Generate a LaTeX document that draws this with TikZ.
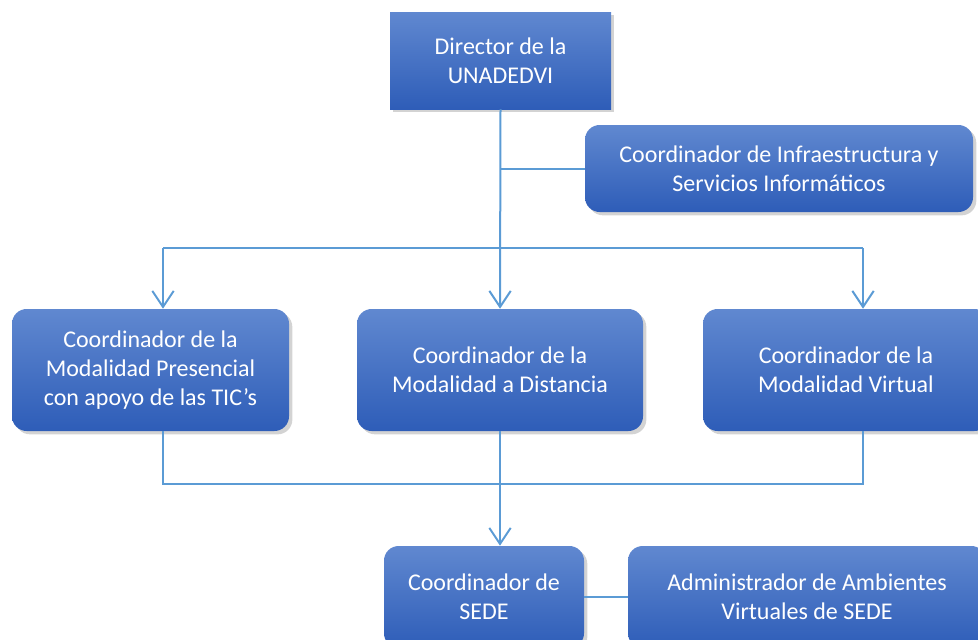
\documentclass[tikz,border=0pt]{standalone}
\usepackage{fontspec}
\setmainfont{Carlito}
\usepackage{tikz}
\usetikzlibrary{arrows.meta,shadows}

\definecolor{boxtop}{HTML}{6088D0}
\definecolor{boxbot}{HTML}{2E5DB8}
\definecolor{linkblue}{HTML}{5B9BD5}

\begin{document}
\begin{tikzpicture}[x=0.75pt,y=-0.75pt,
  unit/.style n args={2}{rectangle,top color=boxtop,bottom color=boxbot,draw=none,
    text=white,align=center,inner sep=0pt,minimum width=#1*0.75pt,minimum height=#2*0.75pt,
    font=\fontsize{18}{22}\selectfont,
    drop shadow={opacity=0.35,shadow xshift=2.5pt,shadow yshift=-2.5pt}},
  round/.style={rounded corners=11pt},
  link/.style={draw=linkblue,line width=1.1pt},
  linkarr/.style={draw=linkblue,line width=1.5pt,-{Straight Barb[length=12pt,width=16pt,line width=1.5pt]}}]
\useasboundingbox (0,0) rectangle (978,639);
\node[unit={221}{97}] (dir) at (500.5,60.5) {Director de la\\UNADEDVI};
\node[unit={388}{87},round] (infra) at (779,168.5) {Coordinador de Infraestructura y\\Servicios Inform\'aticos};
\node[unit={277}{122},round] (pres) at (150.5,370) {Coordinador de la\\Modalidad Presencial\\con apoyo de las TIC’s};
\node[unit={286}{122},round] (dist) at (500,370) {Coordinador de la\\Modalidad a Distancia};
\node[unit={286}{122},round] (virt) at (846,370) {Coordinador de la\\Modalidad Virtual};
\node[unit={200}{102},round] (sede) at (484,597) {Coordinador de\\SEDE};
\node[unit={358}{102},round] (admin) at (807,597) {Administrador de Ambientes\\Virtuales de SEDE};
\coordinate (lt) at (163,248);
\coordinate (rt) at (863,248);
\coordinate (lb) at (163,484);
\coordinate (rb) at (863,484);
\draw[linkarr] (dir.south) -- (dist.north);
\draw[link,line width=1.5pt] (dir.south |- infra.west) -- (infra.west);
\draw[link,line width=1.5pt] (lt) -- (rt);
\draw[linkarr] (lt) -- (lt |- pres.north);
\draw[linkarr] (rt) -- (rt |- virt.north);
\draw[link] (lt |- pres.south) -- (lb) -- (rb) -- (rt |- virt.south);
\draw[linkarr] (dist.south) -- (dist.south |- sede.north);
\draw[link] (sede.east) -- (admin.west);
\end{tikzpicture}
\end{document}
